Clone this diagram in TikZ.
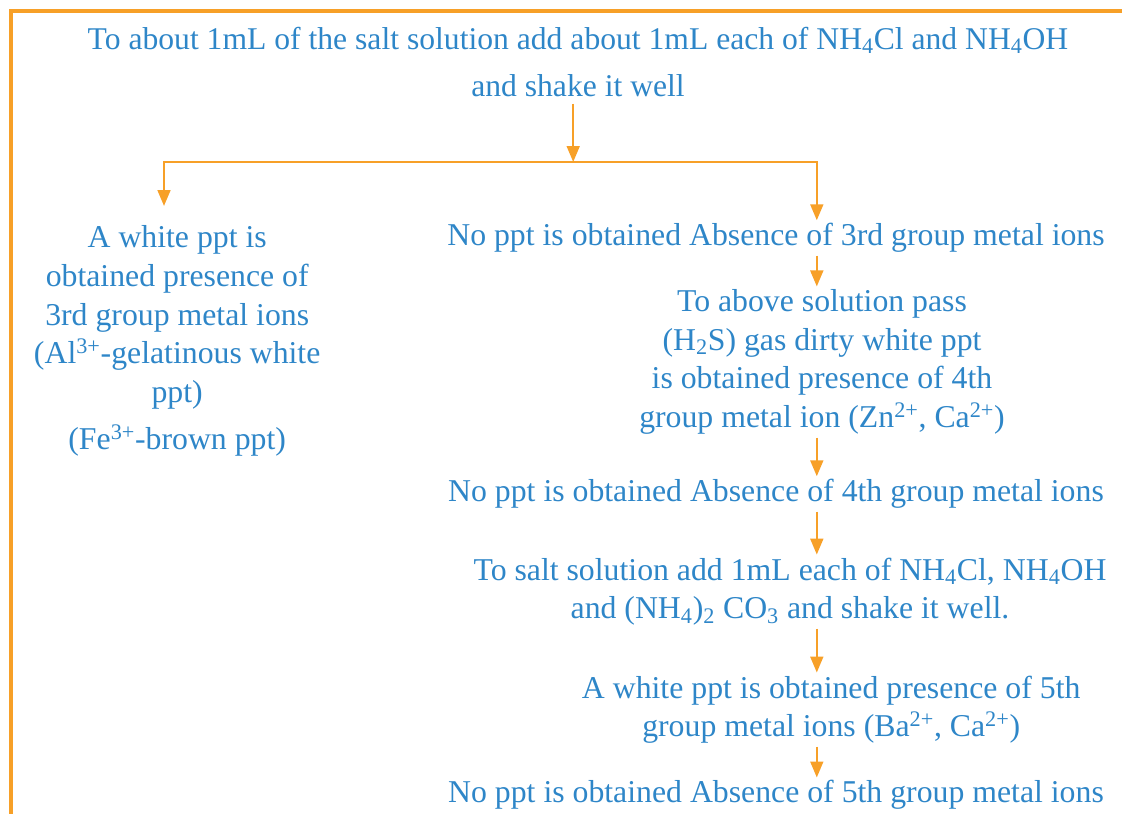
\documentclass[tikz,border=0pt]{standalone}
\usepackage{fontspec}
\setmainfont{Liberation Serif}
\usetikzlibrary{arrows.meta, positioning, calc}
\definecolor{flowblue}{RGB}{46,134,200}
\definecolor{floworange}{RGB}{247,160,40}

\begin{document}
\begin{tikzpicture}[
    txt/.style={text=flowblue, align=center, inner sep=2pt,
                font=\fontsize{22.6}{27.5}\selectfont},
    title/.style={txt, font=\fontsize{22.5}{33.4}\selectfont},
    flow/.style={-{Triangle[length=4mm, width=3.2mm]}, line width=1.7pt, floworange},
    frame/.style={line width=2.2pt, floworange}
]
    \useasboundingbox (0,0) rectangle (28.05,-20.35);

    % Frame
    \draw[frame] (0.275,-20.35) -- (0.275,-0.275) -- (28.05,-0.275);

    % Start
    \node[title] (start) at (14.45,-1.54) {To about 1mL of the salt solution add about 1mL each of NH\textsubscript{4}Cl and NH\textsubscript{4}OH\\
        and shake it well};

    % Branch points
    \coordinate (fork) at (14.33,-4.05);
    \coordinate (spine) at (20.42,-4.05);

    % Left branch
    \node[txt] (pres3) at (4.43,-8.53) {A white ppt is\\ obtained presence of\\ 3rd group metal ions\\
        (Al\textsuperscript{3+}-gelatinous white\\ ppt)\\[6pt] (Fe\textsuperscript{3+}-brown ppt)};

    % Right branch
    \node[txt] (abs3) at (19.4,-5.95) {No ppt is obtained Absence of 3rd group metal ions};
    \node[txt] (grp4) at (20.55,-9.05) {To above solution pass\\ (H\textsubscript{2}S) gas dirty white ppt\\
        is obtained presence of 4th\\ group metal ion (Zn\textsuperscript{2+}, Ca\textsuperscript{2+})};
    \node[txt] (abs4) at (19.4,-12.35) {No ppt is obtained Absence of 4th group metal ions};
    \node[txt] (grp5) at (19.75,-14.79) {To salt solution add 1mL each of NH\textsubscript{4}Cl, NH\textsubscript{4}OH\\
        and (NH\textsubscript{4})\textsubscript{2} CO\textsubscript{3} and shake it well.};
    \node[txt] (pres5) at (20.78,-17.74) {A white ppt is obtained presence of 5th\\
        group metal ions (Ba\textsuperscript{2+}, Ca\textsuperscript{2+})};
    \node[txt] (abs5) at (19.4,-19.88) {No ppt is obtained Absence of 5th group metal ions};

    % Connectors
    \draw[flow, shorten <=3pt] (start.south -| fork) -- (fork);
    \draw[flow] (fork) -| (4.1,-5.15);
    \draw[flow] (fork) -- (spine) -- (abs3.north -| spine);
    \draw[flow] (abs3.south -| spine) -- (grp4.north -| spine);
    \draw[flow] (grp4.south -| spine) -- (abs4.north -| spine);
    \draw[flow] (abs4.south -| spine) -- (grp5.north -| spine);
    \draw[flow] (grp5.south -| spine) -- (pres5.north -| spine);
    \draw[flow] (pres5.south -| spine) -- (abs5.north -| spine);
\end{tikzpicture}
\end{document}
